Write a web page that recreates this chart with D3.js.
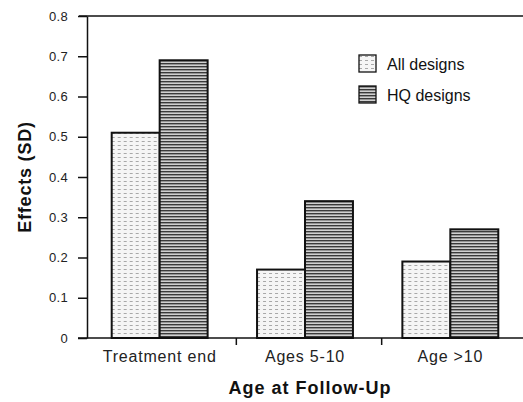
<!DOCTYPE html>
<html>
<head>
<meta charset="utf-8">
<script src="https://cdn.jsdelivr.net/npm/d3@7"></script>
<style>
  body { margin: 0; background: #fff; }
  svg { font-family: "Liberation Sans", Arial, sans-serif; }
</style>
</head>
<body>
<svg id="canvas" width="523" height="402"></svg>
<script>
let categories = ['Treatment end', 'Ages 5-10', 'Age >10'];
let seriesNames = ['All designs', 'HQ designs'];
let allDesigns = [0.51, 0.17, 0.19];
let hqDesigns = [0.69, 0.34, 0.27];
let yTicks = [0, 0.1, 0.2, 0.3, 0.4, 0.5, 0.6, 0.7, 0.8];

let canvas = d3.select('#canvas');

let plotLeft = 87, plotRight = 523, plotTop = 16, plotBottom = 338;

let x0 = d3.scaleBand()
  .domain(categories)
  .range([plotLeft, plotRight])
  .paddingInner(0.34)
  .paddingOuter(0.17);

let x1 = d3.scaleBand()
  .domain(seriesNames)
  .range([0, x0.bandwidth()]);

let y = d3.scaleLinear()
  .domain([0, 0.8])
  .range([plotBottom, plotTop]);

// fill patterns: light stipple vs dense horizontal lines
let defs = canvas.append('defs');
let lightPat = defs.append('pattern')
  .attr('id', 'pat-all')
  .attr('patternUnits', 'userSpaceOnUse')
  .attr('width', 6).attr('height', 4);
lightPat.append('rect').attr('width', 6).attr('height', 4).attr('fill', '#f5f5f5');
lightPat.append('rect').attr('x', 0).attr('y', 1).attr('width', 3).attr('height', 1).attr('fill', '#a8a8a8');

let hqPat = defs.append('pattern')
  .attr('id', 'pat-hq')
  .attr('patternUnits', 'userSpaceOnUse')
  .attr('width', 4).attr('height', 3);
hqPat.append('rect').attr('width', 4).attr('height', 3).attr('fill', '#d0d0d0');
hqPat.append('rect').attr('x', 0).attr('y', 0).attr('width', 4).attr('height', 1.4).attr('fill', '#3a3a3a');

let fills = { 'All designs': 'url(#pat-all)', 'HQ designs': 'url(#pat-hq)' };

let rows = categories.map((c, i) => ({
  cat: c,
  values: [
    { key: 'All designs', value: allDesigns[i] },
    { key: 'HQ designs', value: hqDesigns[i] }
  ]
}));

// top frame line
canvas.append('line')
  .attr('x1', plotLeft - 8).attr('x2', plotRight)
  .attr('y1', y(0.8)).attr('y2', y(0.8))
  .attr('stroke', '#111').attr('stroke-width', 1.5);

// bars
canvas.selectAll('g.group')
  .data(rows)
  .enter()
  .append('g')
  .attr('class', 'group')
  .attr('transform', (d) => 'translate(' + x0(d.cat) + ',0)')
  .selectAll('rect')
  .data((d) => d.values)
  .enter()
  .append('rect')
  .attr('x', (d) => x1(d.key))
  .attr('y', (d) => y(d.value))
  .attr('width', x1.bandwidth())
  .attr('height', (d) => y(0) - y(d.value))
  .attr('fill', (d) => fills[d.key])
  .attr('stroke', '#111')
  .attr('stroke-width', 2);

// y axis
let yAxis = d3.axisLeft(y)
  .tickValues(yTicks)
  .tickSize(9)
  .tickSizeOuter(0)
  .tickPadding(10)
  .tickFormat((d) => d === 0 ? '0' : d.toFixed(1));

let yg = canvas.append('g')
  .attr('transform', 'translate(' + plotLeft + ',0)')
  .call(yAxis);
yg.select('.domain').attr('stroke', '#111').attr('stroke-width', 1.5);
yg.selectAll('.tick line').attr('stroke', '#111').attr('stroke-width', 1.5);
yg.selectAll('.tick text')
  .attr('fill', '#222')
  .style('font-size', '13px')
  .style('letter-spacing', '0.3px');

// baseline
canvas.append('line')
  .attr('x1', plotLeft - 9).attr('x2', plotRight)
  .attr('y1', y(0)).attr('y2', y(0))
  .attr('stroke', '#111').attr('stroke-width', 1.5);

// category separators under baseline
let step = x0.step();
let seps = categories.slice(1).map((c) => x0(c) - step * x0.paddingInner() / 2 + 4);
canvas.selectAll('line.sep')
  .data(seps)
  .enter()
  .append('line')
  .attr('class', 'sep')
  .attr('x1', (d) => d).attr('x2', (d) => d)
  .attr('y1', y(0)).attr('y2', y(0) + 7)
  .attr('stroke', '#111').attr('stroke-width', 1.5);

// category labels
canvas.selectAll('text.cat')
  .data(categories)
  .enter()
  .append('text')
  .attr('class', 'cat')
  .attr('x', (d) => x0(d) + x0.bandwidth() / 2)
  .attr('y', y(0) + 24)
  .attr('text-anchor', 'middle')
  .attr('fill', '#222')
  .style('font-size', '16px')
  .style('letter-spacing', '0.8px')
  .text((d) => d);

// axis titles
canvas.append('text')
  .attr('x', 310)
  .attr('y', 394)
  .attr('text-anchor', 'middle')
  .attr('fill', '#111')
  .style('font-size', '18px')
  .style('font-weight', 'bold')
  .style('letter-spacing', '1px')
  .text('Age at Follow-Up');

canvas.append('text')
  .attr('transform', 'translate(31,177) rotate(-90)')
  .attr('text-anchor', 'middle')
  .attr('fill', '#111')
  .style('font-size', '18px')
  .style('font-weight', 'bold')
  .style('letter-spacing', '0.8px')
  .text('Effects (SD)');

// legend
let legend = canvas.selectAll('g.legend')
  .data(seriesNames)
  .enter()
  .append('g')
  .attr('class', 'legend')
  .attr('transform', (d, i) => 'translate(359,' + (55 + i * 31) + ')');

legend.append('rect')
  .attr('width', 17).attr('height', 17)
  .attr('fill', (d) => fills[d])
  .attr('stroke', '#111')
  .attr('stroke-width', 1.3);

legend.append('text')
  .attr('x', 28)
  .attr('y', 15)
  .attr('fill', '#111')
  .style('font-size', '16px')
  .text((d) => d);
</script>
</body>
</html>
